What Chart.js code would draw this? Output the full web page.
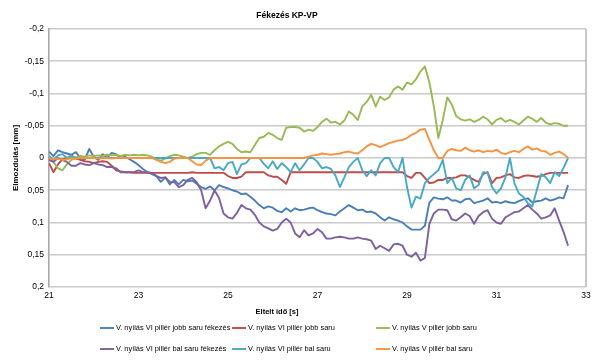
<!DOCTYPE html>
<html><head><meta charset="utf-8">
<script src="https://cdn.jsdelivr.net/npm/chart.js@4/dist/chart.umd.min.js"></script>
<style>html,body{margin:0;padding:0;background:#fff;}canvas{display:block;}</style>
</head><body>
<canvas id="c" width="600" height="362"></canvas>
<script>
const chartTitle = 'Fékezés KP-VP';
const xTitle = 'Eltelt idő [s]';
const yTitle = 'Elmozdulás [mm]';

const times = [
21.0,21.1,21.2,21.3,21.4,21.5,21.6,21.7,21.8,21.9,
22.0,22.1,22.2,22.3,22.4,22.5,22.6,22.7,22.8,22.9,
23.0,23.1,23.2,23.3,23.4,23.5,23.6,23.7,23.8,23.9,
24.0,24.1,24.2,24.3,24.4,24.5,24.6,24.7,24.8,24.9,
25.0,25.1,25.2,25.3,25.4,25.5,25.6,25.7,25.8,25.9,
26.0,26.1,26.2,26.3,26.4,26.5,26.6,26.7,26.8,26.9,
27.0,27.1,27.2,27.3,27.4,27.5,27.6,27.7,27.8,27.9,
28.0,28.1,28.2,28.3,28.4,28.5,28.6,28.7,28.8,28.9,
29.0,29.1,29.2,29.3,29.4,29.5,29.6,29.7,29.8,29.9,
30.0,30.1,30.2,30.3,30.4,30.5,30.6,30.7,30.8,30.9,
31.0,31.1,31.2,31.3,31.4,31.5,31.6,31.7,31.8,31.9,
32.0,32.1,32.2,32.3,32.4,32.5,32.6];

const labels = [
'V. nyílás VI pillér jobb saru fékezés',
'V. nyílás VI pillér jobb saru',
'V. nyílás V pillér jobb saru',
'V. nyílás VI pillér bal saru fékezés',
'V. nyílás VI pillér bal saru',
'V. nyílás V pillér bal saru'];

const colors = ['#4A7EBB','#BE4B48','#98B954','#7D60A0','#46AAC5','#F69240'];

const viJobbFek = [
-0.01,-0.003,-0.012,-0.009,-0.007,-0.005,-0.009,0.0,0.002,-0.014,
-0.002,0.003,-0.006,0.0,-0.008,-0.006,0.0,-0.002,0.002,0.006,
0.011,0.017,0.022,0.025,0.028,0.037,0.03,0.041,0.034,0.041,
0.034,0.036,0.035,0.04,0.045,0.048,0.044,0.05,0.042,0.045,
0.047,0.05,0.052,0.056,0.055,0.06,0.066,0.073,0.078,0.075,
0.077,0.082,0.084,0.078,0.083,0.078,0.081,0.08,0.078,0.077,
0.081,0.084,0.086,0.087,0.089,0.083,0.078,0.073,0.077,0.081,
0.08,0.084,0.083,0.086,0.092,0.097,0.092,0.095,0.097,0.1,
0.106,0.111,0.111,0.111,0.105,0.069,0.061,0.063,0.064,0.061,
0.066,0.066,0.069,0.064,0.063,0.07,0.068,0.066,0.0625,0.069,
0.068,0.07,0.067,0.069,0.07,0.067,0.064,0.0625,0.069,0.067,
0.066,0.0625,0.066,0.064,0.061,0.0625,0.042];

const viJobb = [
0.008,0.022,0.01,0.002,0.0,0.0,0.001,0.003,0.005,0.006,
0.008,0.006,0.005,0.006,0.012,0.019,0.021,0.022,0.022,0.023,
0.023,0.023,0.023,0.023,0.023,0.023,0.023,0.023,0.023,0.023,
0.023,0.023,0.022,0.023,0.023,0.023,0.023,0.023,0.023,0.023,
0.028,0.031,0.031,0.029,0.022,0.022,0.022,0.022,0.022,0.027,
0.029,0.029,0.034,0.04,0.022,0.022,0.022,0.022,0.022,0.022,
0.022,0.022,0.022,0.022,0.022,0.022,0.022,0.022,0.022,0.022,
0.022,0.022,0.022,0.022,0.022,0.022,0.022,0.022,0.022,0.022,
0.028,0.031,0.023,0.023,0.031,0.039,0.038,0.034,0.034,0.031,
0.031,0.03,0.027,0.027,0.03,0.034,0.037,0.025,0.022,0.039,
0.031,0.03,0.027,0.025,0.03,0.031,0.028,0.027,0.028,0.029,
0.028,0.025,0.023,0.023,0.023,0.023,0.023];

const vJobb = [
0.0,0.006,0.016,0.019,0.01,0.003,-0.001,-0.003,-0.002,-0.004,
-0.003,-0.004,-0.003,-0.005,-0.004,-0.005,-0.003,-0.005,-0.004,-0.005,
-0.004,-0.005,-0.004,-0.002,0.002,0.004,0.001,-0.003,-0.005,-0.004,
-0.002,0.0,-0.002,-0.006,-0.008,-0.008,-0.005,-0.012,-0.018,-0.022,
-0.025,-0.022,-0.014,-0.009,-0.01,-0.009,-0.02,-0.031,-0.033,-0.039,
-0.036,-0.031,-0.028,-0.047,-0.048,-0.048,-0.047,-0.041,-0.044,-0.042,
-0.048,-0.056,-0.061,-0.055,-0.056,-0.052,-0.058,-0.072,-0.067,-0.059,
-0.08,-0.087,-0.098,-0.08,-0.095,-0.09,-0.094,-0.106,-0.111,-0.106,
-0.117,-0.114,-0.122,-0.134,-0.142,-0.117,-0.08,-0.031,-0.059,-0.094,
-0.083,-0.065,-0.06,-0.058,-0.06,-0.056,-0.059,-0.064,-0.06,-0.052,
-0.059,-0.062,-0.056,-0.059,-0.056,-0.052,-0.058,-0.064,-0.061,-0.056,
-0.062,-0.055,-0.052,-0.054,-0.053,-0.05,-0.05];

const viBalFek = [
0.003,0.006,0.0,0.003,0.006,0.012,0.012,0.008,0.01,0.011,
0.008,0.01,0.011,0.014,0.014,0.016,0.022,0.022,0.022,0.022,
0.019,0.022,0.022,0.023,0.028,0.031,0.03,0.037,0.0375,0.045,
0.042,0.034,0.031,0.0375,0.05,0.078,0.066,0.05,0.062,0.086,
0.092,0.094,0.085,0.073,0.078,0.08,0.088,0.1,0.106,0.109,
0.1125,0.11,0.1,0.094,0.1,0.117,0.123,0.112,0.12,0.117,
0.11,0.115,0.125,0.125,0.123,0.122,0.123,0.125,0.125,0.123,
0.125,0.126,0.128,0.141,0.136,0.14,0.144,0.134,0.133,0.136,
0.15,0.153,0.147,0.159,0.155,0.102,0.086,0.08,0.08,0.081,
0.095,0.097,0.092,0.086,0.09,0.102,0.09,0.084,0.081,0.094,
0.1,0.102,0.092,0.088,0.084,0.083,0.078,0.073,0.08,0.086,
0.094,0.092,0.089,0.078,0.097,0.115,0.136];

const viBal = [
-0.003,0.003,-0.004,-0.006,0.0,-0.004,0.0,0.0,0.0,0.0,
0.0,0.0,0.0,0.0,0.0,0.0,0.0,0.0,0.0,0.0,
0.0,0.0,0.0,0.0,0.0,0.0,0.0,0.0,0.0,0.0,
0.0,0.0,0.0,0.0,0.0,0.0,0.0,0.016,0.014,0.019,
0.008,0.006,0.025,0.01,0.008,0.0,0.0,0.0,0.009,0.016,
0.005,0.017,0.008,0.014,0.022,0.008,0.019,0.01,0.0,0.0,
0.006,0.016,0.014,0.017,0.027,0.045,0.03,0.014,0.006,0.0,
0.019,0.028,0.019,0.027,0.008,0.0,0.0,0.014,0.022,0.0,
0.045,0.077,0.06,0.063,0.039,0.031,0.025,0.019,0.003,0.039,
0.031,0.047,0.05,0.034,0.027,0.047,0.042,0.022,0.023,0.045,
0.055,0.047,0.03,0.0,0.039,0.055,0.06,0.07,0.075,0.05,
0.025,0.03,0.039,0.022,0.028,0.015,0.0];

const vBal = [
0.0,0.002,0.001,0.003,0.002,0.0,0.001,0.0,0.0,0.0,
0.0,0.001,0.0,0.0,0.001,0.0,0.0,0.0,0.0,0.0,
0.0,0.0,0.0,0.0,0.003,0.006,0.008,0.006,0.001,0.0,
0.0,0.0,0.005,0.01,0.011,0.004,0.0,0.0,0.0,0.0,
0.0,0.0,0.0,0.0,0.0,0.0,0.0,0.0,0.0,0.0,
0.0,0.0,0.0,0.0,0.0,0.0,0.0,0.0,-0.002,-0.004,
-0.005,-0.007,-0.006,-0.005,-0.006,-0.007,-0.009,-0.01,-0.008,-0.007,
-0.012,-0.018,-0.022,-0.02,-0.017,-0.02,-0.023,-0.025,-0.027,-0.028,
-0.031,-0.036,-0.039,-0.044,-0.045,-0.028,-0.012,0.0,0.0,-0.011,
-0.014,-0.012,-0.011,-0.016,-0.012,-0.01,-0.012,-0.009,-0.011,-0.01,
-0.013,-0.008,-0.006,-0.009,-0.011,-0.009,-0.014,-0.018,-0.013,-0.015,
-0.011,-0.01,-0.005,-0.008,-0.01,-0.006,0.0];

const seriesValues = [viJobbFek, viJobb, vJobb, viBalFek, viBal, vBal];
const drawOrder = [6,5,4,3,2,1];

const FONT = '"Liberation Sans", Arial, sans-serif';

const datasets = seriesValues.map((vals, i) => ({
  label: labels[i],
  data: vals.map((v, k) => ({x: times[k], y: v})),
  borderColor: colors[i],
  backgroundColor: colors[i],
  borderWidth: 1.9,
  pointRadius: 0,
  tension: 0,
  fill: false,
  borderJoinStyle: 'round',
  order: drawOrder[i]
}));

function fmt(v){
  const r = Math.round(v*100)/100;
  if (Math.abs(r) < 1e-9) return '0';
  return String(r).replace('.', ',');
}

const deco = {
  id: 'deco',
  afterDraw(chart){
    const ctx = chart.ctx, a = chart.chartArea;
    ctx.save();
    ctx.strokeStyle = '#b4b4b4'; ctx.lineWidth = 1.5;
    ctx.beginPath(); ctx.moveTo(a.right, a.top); ctx.lineTo(a.right, a.bottom); ctx.stroke();
    ctx.fillStyle = '#000';
    ctx.textAlign = 'center'; ctx.textBaseline = 'middle';
    ctx.font = 'bold 8.5px ' + FONT;
    ctx.fillText(chartTitle, 287, 16);
    ctx.font = 'bold 7.5px ' + FONT;
    ctx.fillText(xTitle, 277, 312);
    ctx.save();
    ctx.translate(16, 158); ctx.rotate(-Math.PI/2);
    ctx.font = 'bold 8px ' + FONT;
    ctx.fillText(yTitle, 0, 0);
    ctx.restore();
    const colX = [100, 232, 376];
    const rowY = [328, 349];
    ctx.font = '7.4px ' + FONT;
    ctx.textAlign = 'left';
    labels.forEach((lab, k) => {
      const x = colX[k % 3], y = rowY[Math.floor(k / 3)];
      ctx.strokeStyle = colors[k]; ctx.lineWidth = 1.9;
      ctx.beginPath(); ctx.moveTo(x, y); ctx.lineTo(x + 14, y); ctx.stroke();
      ctx.fillStyle = '#000';
      ctx.fillText(lab, x + 16, y);
    });
    ctx.restore();
  }
};

new Chart(document.getElementById('c'), {
  type: 'line',
  data: { datasets },
  plugins: [deco],
  options: {
    responsive: false,
    animation: false,
    devicePixelRatio: 1,
    layout: { padding: { left: 9, right: 14, top: 29, bottom: 55 } },
    plugins: { legend: { display: false }, title: { display: false }, tooltip: { enabled: false } },
    scales: {
      x: {
        type: 'linear', min: 21, max: 33,
        afterFit(s){ s.height = 20; },
        ticks: { stepSize: 2, padding: 4, color: '#000', font: { size: 8.5, family: FONT }, maxRotation: 0 },
        grid: { display: false, drawTicks: false },
        border: { display: false }
      },
      y: {
        type: 'linear', min: -0.2, max: 0.2, reverse: true,
        afterFit(s){ s.width = 40; },
        ticks: { stepSize: 0.05, padding: 5, color: '#000', font: { size: 8.5, family: FONT }, callback: (v) => fmt(v) },
        grid: { color: '#cacaca', lineWidth: 1.6, drawTicks: false },
        border: { display: true, color: '#a8a8a8', width: 1.6 }
      }
    }
  }
});
</script>
</body></html>
